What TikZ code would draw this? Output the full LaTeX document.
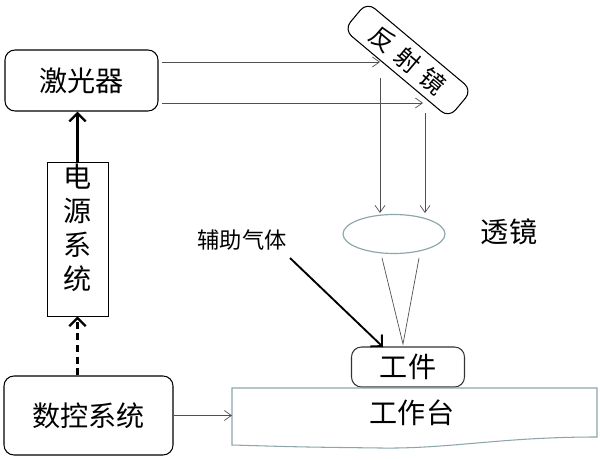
\documentclass[tikz,border=0pt]{standalone}
\usepackage{fontspec}
\newfontfamily\cjk{Noto Sans CJK SC}
\usetikzlibrary{shapes.geometric,arrows.meta}
\definecolor{lensgray}{RGB}{140,166,170}
\definecolor{beamgray}{RGB}{80,80,80}
\begin{document}
\begin{tikzpicture}[scale=0.3]
\tikzstyle{every node}+=[font=\cjk\fontsize{24}{29}\selectfont]
\tikzstyle{unit}=[draw, rounded corners=0.3cm, line width=0.9pt]
\tikzstyle{beam}=[draw=beamgray, line width=0.6pt, -{Straight Barb[length=6pt,width=8.5pt]}]
\tikzstyle{feed}=[line width=2pt, -{Straight Barb[length=7pt,width=14pt]}]
\useasboundingbox (0,0) rectangle (60,-46);
\node (laser) [unit, minimum width=4.59cm, minimum height=1.83cm] at (8.15,-8.05) {激光器};
\node (mirror) [unit, rotate=-40, inner sep=0pt, minimum width=4.11cm, minimum height=1.08cm,
  font=\cjk\fontsize{21}{25}\selectfont] at (40.8,-6.0) {反\hspace{7pt}射\hspace{7pt}镜};
\node (power) [draw, line width=0.6pt, minimum width=1.83cm, minimum height=4.62cm] at (7.75,-23.9) {};
\node (powerlabel) [align=center] at (7.75,-22.8) {电\\源\\系\\统};
\node (nc) [unit, minimum width=5.07cm, minimum height=2.37cm] at (8.85,-41.55) {数控系统};
\node (lens) [ellipse, draw=lensgray, line width=1pt, minimum width=3.06cm, minimum height=1.17cm] at (39.4,-23.4) {};
\node (lenslabel) at (50.9,-23.2) {透镜};
\node (gas) [font=\cjk\fontsize{19}{23}\selectfont] at (24.2,-24.0) {辅助气体};
\node (work) [unit, draw=black!80, minimum width=3.39cm, minimum height=1.2cm] at (40.8,-36.7) {工件};
\node (table) at (41.2,-41.3) {工作台};
% table outline
\draw [lensgray, line width=0.9pt] (23.2,-38.8) -- (59.7,-38.8) -- (59.7,-43.7)
  .. controls (50,-43.7) and (45,-44.9) .. (38,-44.8)
  .. controls (30,-44.7) .. (23.2,-44.5) -- cycle;
% beam points
\coordinate (b1s) at (16.2,-6.2);
\coordinate (b1e) at (38.0,-6.2);
\coordinate (b1d) at (38.0,-7.8);
\coordinate (b1l) at (38.0,-21.3);
\coordinate (b2s) at (16.2,-10.3);
\coordinate (b2e) at (42.3,-10.3);
\coordinate (b2d) at (42.5,-11.3);
\coordinate (b2l) at (42.5,-21.3);
\coordinate (l1) at (38.2,-25.8);
\coordinate (l2) at (41.9,-25.8);
\coordinate (focus) at (40.3,-34.4);
\coordinate (gasstart) at (29.0,-25.8);
\coordinate (gasend) at (38.3,-34.7);
\coordinate (tablein) at (23.2,-41.55);
\draw [beam] (b1s) -- (b1e);
\draw [beam] (b1d) -- (b1l);
\draw [beam] (b2s) -- (b2e);
\draw [beam] (b2d) -- (b2l);
\draw [beamgray, line width=0.6pt] (l1) -- (focus) -- (l2);
\draw [feed, line width=1.6pt] (gasstart) -- (gasend);
\draw [beam] (nc.east) -- (tablein);
\draw [feed] (power.north) -- (power.north |- laser.south);
\draw [feed, dash pattern=on 6pt off 4pt] (power.south |- nc.north) -- (power.south);
\end{tikzpicture}
\end{document}
